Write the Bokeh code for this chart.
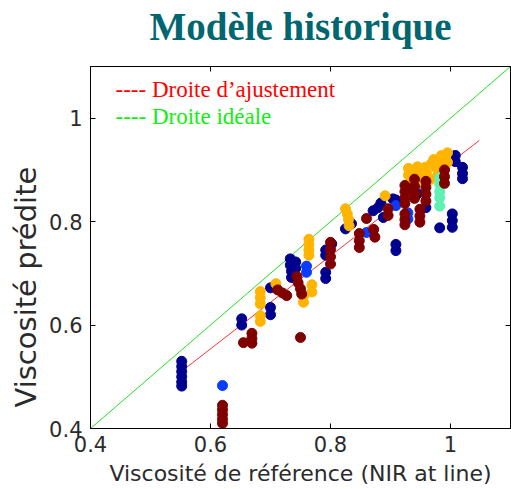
from bokeh.plotting import figure
from bokeh.models import Range1d, FixedTicker, LinearAxis, Label, Title
from bokeh.embed import file_html
from bokeh.resources import INLINE

# ---------------- data ----------------
x_ticks = [0.4, 0.6, 0.8, 1.0]
x_tick_labels = ["0.4", "0.6", "0.8", "1"]
y_ticks = [0.4, 0.6, 0.8, 1.0]
y_tick_labels = ["0.4", "0.6", "0.8", "1"]

navy_x = [0.552, 0.552, 0.552, 0.552, 0.552, 0.552,
          0.652, 0.652, 0.700, 0.700, 0.700,
          0.733, 0.733, 0.735, 0.735, 0.742, 0.742,
          0.792, 0.792, 0.792, 0.792, 0.802,
          0.825, 0.835, 0.871, 0.879, 0.888, 0.884, 0.904,
          0.909, 0.909, 0.909, 0.932, 0.945, 0.959,
          0.982, 1.003, 1.003, 1.003, 1.008, 1.008,
          1.020, 1.020, 1.020]
navy_y = [0.530, 0.520, 0.510, 0.500, 0.490, 0.482,
          0.612, 0.600, 0.634, 0.620, 0.672,
          0.728, 0.716, 0.704, 0.692, 0.722, 0.710,
          0.745, 0.735, 0.702, 0.690, 0.757,
          0.786, 0.796, 0.821, 0.827, 0.808, 0.836, 0.844,
          0.842, 0.756, 0.744, 0.868, 0.854, 0.827,
          0.788, 0.815, 0.802, 0.789, 0.928, 0.916,
          0.905, 0.893, 0.883]

blue_x = [0.620, 0.760, 0.760, 0.860, 0.909, 0.929, 0.929]
blue_y = [0.483, 0.714, 0.702, 0.779, 0.831, 0.817, 0.805]

orange_x = [0.683, 0.683, 0.683, 0.683, 0.683, 0.709,
            0.755, 0.755, 0.769, 0.769,
            0.764, 0.764, 0.764, 0.764,
            0.825, 0.828, 0.830, 0.831, 0.891,
            0.930, 0.937, 0.945, 0.952, 0.960, 0.968, 0.975, 0.985,
            0.992, 0.940, 0.950, 0.965, 0.978, 0.990, 0.935, 0.955,
            0.930, 0.945, 0.958, 0.972, 0.980, 0.995, 0.995]
orange_y = [0.665, 0.653, 0.641, 0.618, 0.607, 0.680,
            0.656, 0.644, 0.678, 0.664,
            0.766, 0.756, 0.745, 0.735,
            0.825, 0.815, 0.804, 0.792, 0.850,
            0.890, 0.896, 0.898, 0.899, 0.893, 0.912, 0.905, 0.928,
            0.922, 0.875, 0.882, 0.880, 0.888, 0.905, 0.882, 0.887,
            0.903, 0.906, 0.905, 0.920, 0.918, 0.933, 0.915]

aqua_x = [0.982, 0.982, 0.982, 0.982, 0.982]
aqua_y = [0.885, 0.872, 0.858, 0.846, 0.830]

maroon_x = [0.620, 0.620, 0.620, 0.620, 0.620,
            0.655, 0.669, 0.669, 0.669,
            0.712, 0.720, 0.727, 0.750,
            0.744, 0.746, 0.750, 0.752,
            0.800, 0.800, 0.800, 0.800,
            0.848, 0.848, 0.848,
            0.860, 0.872, 0.874, 0.896, 0.896,
            0.924, 0.924, 0.924, 0.924, 0.924, 0.924, 0.924,
            0.940, 0.940, 0.940, 0.940,
            0.959, 0.959, 0.959, 0.959,
            0.949, 0.949, 0.949,
            0.990, 0.990, 0.990]
maroon_y = [0.445, 0.436, 0.427, 0.418, 0.410,
            0.566, 0.584, 0.574, 0.565,
            0.668, 0.662, 0.657, 0.576,
            0.694, 0.682, 0.670, 0.660,
            0.760, 0.746, 0.732, 0.718,
            0.777, 0.763, 0.750,
            0.806, 0.785, 0.770, 0.825, 0.812,
            0.870, 0.858, 0.846, 0.835, 0.815, 0.804, 0.794,
            0.882, 0.868, 0.855, 0.845,
            0.878, 0.866, 0.853, 0.840,
            0.824, 0.811, 0.799,
            0.900, 0.887, 0.874]

fit_x = [0.560, 1.048]
fit_y = [0.518, 0.957]
ideal_x = [0.4, 1.1]
ideal_y = [0.4, 1.1]

title_text = "Modèle historique"
x_label = "Viscosité de référence (NIR at line)"
y_label = "Viscosité prédite"
legend_fit = "---- Droite d’ajustement"
legend_ideal = "---- Droite idéale"

# ---------------- figure ----------------
p = figure(width=511, height=489, output_backend="svg", toolbar_location=None,
           x_range=Range1d(0.4, 1.1), y_range=Range1d(0.4, 1.1),
           min_border_left=90, min_border_right=1, min_border_top=66,
           min_border_bottom=61)
p.background_fill_color = "white"
p.border_fill_color = "white"
p.outline_line_color = "black"
p.outline_line_width = 1
p.grid.visible = False

p.title.text = title_text
p.title.text_font = "Liberation Serif"
p.title.text_font_style = "bold"
p.title.text_font_size = "39px"
p.title.text_color = "#00666f"
p.title.align = "center"
p.title.standoff = 0

tick_font = "DejaVu Sans"
tick_color = "#2b2b2b"

def style_axis(ax, ticks, labels, show_labels):
    ax.ticker = FixedTicker(ticks=ticks)
    ax.minor_tick_line_color = None
    ax.major_tick_in = 5
    ax.major_tick_out = 0
    ax.axis_line_color = "black"
    ax.major_tick_line_color = "black"
    if show_labels:
        ax.major_label_overrides = {t: l for t, l in zip(ticks, labels)}
        ax.major_label_text_font = tick_font
        ax.major_label_text_font_size = "21px"
        ax.major_label_text_color = tick_color
    else:
        ax.major_label_text_color = None
        ax.major_label_text_font_size = "1px"
        ax.major_label_standoff = 0

style_axis(p.xaxis[0], x_ticks, x_tick_labels, True)
style_axis(p.yaxis[0], y_ticks, y_tick_labels, True)
p.xaxis[0].major_label_standoff = 7
p.yaxis[0].major_label_standoff = 8

# x axis label
p.xaxis[0].axis_label = x_label
p.xaxis[0].axis_label_text_font = tick_font
p.xaxis[0].axis_label_text_font_size = "22px"
p.xaxis[0].axis_label_text_font_style = "normal"
p.xaxis[0].axis_label_text_color = tick_color
p.xaxis[0].axis_label_standoff = 6

# box ticks on top and right
top_axis = LinearAxis()
style_axis(top_axis, x_ticks, x_tick_labels, False)
p.add_layout(top_axis, "above")
right_axis = LinearAxis()
style_axis(right_axis, y_ticks, y_tick_labels, False)
p.add_layout(right_axis, "right")

# invisible spacer between the frame and the title
spacer = LinearAxis(ticker=FixedTicker(ticks=x_ticks), major_tick_out=19, major_tick_in=0,
                    major_tick_line_color=None, minor_tick_line_color=None,
                    axis_line_color=None, major_label_text_color=None,
                    major_label_text_font_size="1px", major_label_standoff=0)
p.add_layout(spacer, "above")

# y axis label (placed as a side title so it can sit below centre, as in the reference)
p.add_layout(Title(text=y_label, align="left", offset=21, standoff=7,
                   text_font=tick_font, text_font_size="29px",
                   text_font_style="normal", text_color=tick_color), "left")

# lines
p.line(ideal_x, ideal_y, line_color="#22e022", line_width=1)
p.line(fit_x, fit_y, line_color="#ff3333", line_width=1)

# points
msize = 10
p.scatter(navy_x, navy_y, size=msize, color="#00008f")
p.scatter(blue_x, blue_y, size=msize, color="#0a3cff")
p.scatter(orange_x, orange_y, size=msize, color="#ffb400")
p.scatter(aqua_x, aqua_y, size=msize, color="#5ff0b4")
p.scatter(maroon_x, maroon_y, size=msize, color="#800000")

# legend texts (MATLAB-style text legend)
p.add_layout(Label(x=25, y=339, x_units="screen", y_units="screen", text=legend_fit,
                   text_font="Liberation Serif", text_font_size="23px",
                   text_color="#ff0000", text_baseline="alphabetic"))
p.add_layout(Label(x=25, y=312, x_units="screen", y_units="screen", text=legend_ideal,
                   text_font="Liberation Serif", text_font_size="23px",
                   text_color="#11ee11", text_baseline="alphabetic"))

open("out.html", "w").write(file_html(p, INLINE))
